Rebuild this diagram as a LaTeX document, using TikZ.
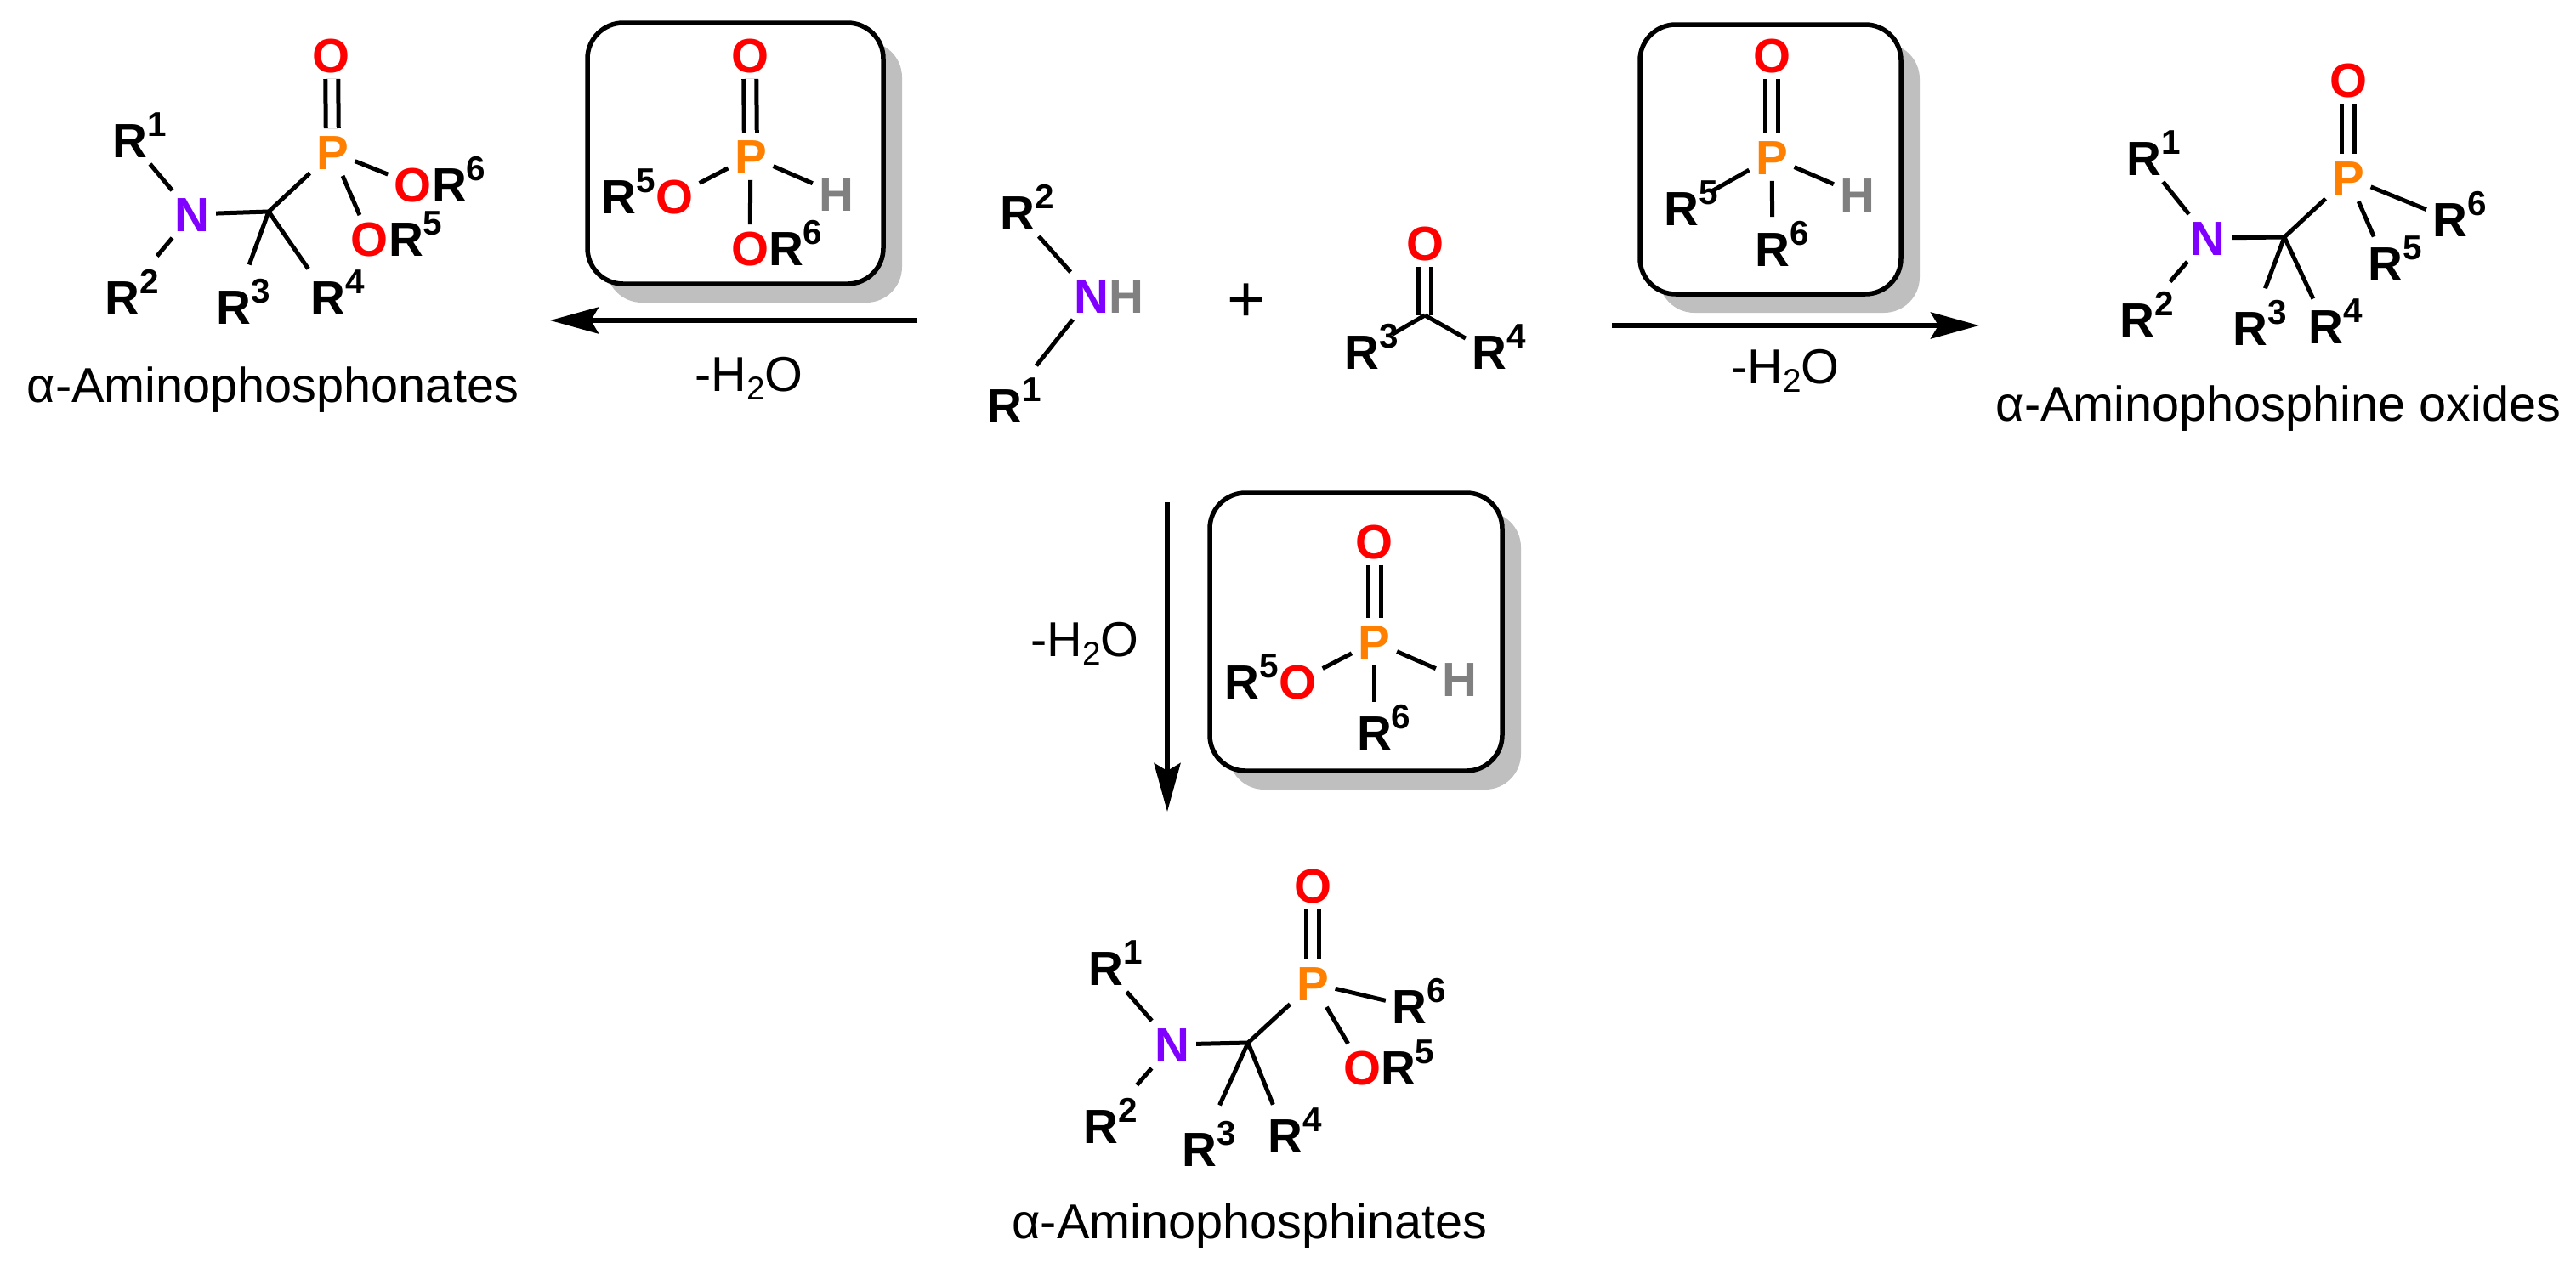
\documentclass[tikz,border=0pt]{standalone}
\usepackage{fontspec}
\usepackage{xcolor}
\setmainfont{Liberation Sans}
\usetikzlibrary{arrows.meta,shadows}

\definecolor{oxred}{HTML}{FF0000}
\definecolor{phorange}{HTML}{FF8000}
\definecolor{nipurple}{HTML}{7F00FF}
\definecolor{hygray}{HTML}{808080}

\newcommand{\upnum}[1]{\smash{\raisebox{7pt}{\fontsize{11.5}{11.5}\selectfont #1}}}
\newcommand{\rgrp}[1]{R\rlap{\upnum{#1}}}
\newcommand{\rright}[1]{O\rlap{\color{black}R\upnum{#1}}}
\newcommand{\rleft}[1]{\llap{\color{black}R\upnum{#1}}O}
\newcommand{\minuswater}{-H\raisebox{-3pt}{\fontsize{11}{11}\selectfont 2}O}

\tikzset{
  atom/.style={font=\fontsize{16.1}{18}\selectfont\bfseries,inner sep=2pt,text height=11.5pt,text depth=0pt},
  oatom/.style={atom,text=oxred},
  patom/.style={atom,text=phorange},
  natom/.style={atom,text=nipurple},
  hatom/.style={atom,text=hygray},
  caption/.style={font=\fontsize{16.4}{19}\selectfont,anchor=base,inner sep=0pt},
  bond/.style={line width=.05cm},
  dbond/.style={line width=.05cm,double,double distance=.10cm},
  rxnarrow/.style={line width=.055cm,-{Stealth[length=.57cm,width=.31cm,inset=.09cm]}},
  reagentbox/.style={draw,line width=.055cm,fill=white,rounded corners=.42cm,
    drop shadow={shadow xshift=.22cm,shadow yshift=-.22cm,fill=black!25,opacity=1}}
}

\begin{document}
\begin{tikzpicture}
\useasboundingbox (0,0) rectangle (30.30,-14.92);

% boxes with the reagents
\node (boxa) at (8.65,-1.805) [reagentbox,minimum width=3.48cm,minimum height=3.07cm] {};
\node (boxb) at (20.825,-1.875) [reagentbox,minimum width=3.07cm,minimum height=3.17cm] {};
\node (boxc) at (15.95,-7.435) [reagentbox,minimum width=3.44cm,minimum height=3.27cm] {};

% starting materials
\node (amr2) at (11.97,-2.50) [atom] {\rgrp{2}};
\node (amn) at (12.84,-3.48) [natom] {N\rlap{\color{hygray}H}};
\node (amr1) at (11.82,-4.77) [atom] {\rgrp{1}};
\node (plus) at (14.66,-3.56) [font=\fontsize{22}{24}\selectfont,inner sep=0pt] {+};
\node (keto) at (16.76,-2.86) [oatom] {O};
\coordinate (ketc) at (16.76,-3.71);
\node (ketr3) at (16.02,-4.14) [atom] {\rgrp{3}};
\node (ketr4) at (17.52,-4.14) [atom] {\rgrp{4}};
\draw [bond] (amr2) -- (amn);
\draw [bond,shorten >=.24cm] (amn) -- (amr1);
\draw [dbond] (keto) -- (ketc);
\draw [bond,shorten >=.08cm] (ketc) -- (ketr3);
\draw [bond] (ketc) -- (ketr4);

% reagent of the left route
\node (oxra) at (8.82,-0.65) [oatom] {O};
\node (phra) at (8.83,-1.84) [patom] {P};
\node (o5ra) at (7.93,-2.31) [oatom] {\rleft{5}};
\node (hyra) at (9.84,-2.28) [hatom] {H};
\node (o6ra) at (8.82,-2.92) [oatom] {\rright{6}};
\draw [dbond] (oxra) -- (phra);
\draw [bond] (phra) -- (o5ra);
\draw [bond] (phra) -- (hyra);
\draw [bond] (phra) -- (o6ra);

% reagent of the right route
\node (oxrb) at (20.84,-0.65) [oatom] {O};
\node (phrb) at (20.84,-1.85) [patom] {P};
\node (r5rb) at (19.78,-2.45) [atom] {\rgrp{5}};
\node (hyrb) at (21.85,-2.29) [hatom] {H};
\node (r6rb) at (20.85,-2.93) [atom] {\rgrp{6}};
\draw [dbond] (oxrb) -- (phrb);
\draw [bond,shorten >=.06cm] (phrb) -- (r5rb);
\draw [bond] (phrb) -- (hyrb);
\draw [bond,shorten >=.10cm] (phrb) -- (r6rb);

% reagent of the lower route
\node (oxrc) at (16.165,-6.37) [oatom] {O};
\node (phrc) at (16.165,-7.55) [patom] {P};
\node (o5rc) at (15.26,-8.02) [oatom] {\rleft{5}};
\node (hyrc) at (17.17,-7.99) [hatom] {H};
\node (r6rc) at (16.165,-8.62) [atom] {\rgrp{6}};
\draw [dbond] (oxrc) -- (phrc);
\draw [bond] (phrc) -- (o5rc);
\draw [bond] (phrc) -- (hyrc);
\draw [bond,shorten >=.08cm] (phrc) -- (r6rc);

% left product
\node (oxa) at (3.90,-0.65) [oatom] {O};
\node (pa) at (3.91,-1.79) [patom] {P};
\node (na) at (2.26,-2.52) [natom] {N};
\coordinate (cena) at (3.16,-2.49);
\node (r1a) at (1.53,-1.65) [atom] {\rgrp{1}};
\node (r2a) at (1.44,-3.50) [atom] {\rgrp{2}};
\node (r3a) at (2.75,-3.61) [atom] {\rgrp{3}};
\node (r4a) at (3.86,-3.50) [atom] {\rgrp{4}};
\node (o6a) at (4.86,-2.17) [oatom] {\rright{6}};
\node (o5a) at (4.35,-2.81) [oatom] {\rright{5}};
\node (capa) at (3.21,-4.73) [caption] {α-Aminophosphonates};
\draw [dbond] (oxa) -- (pa);
\draw [bond] (r1a) -- (na);
\draw [bond,shorten >=.27cm] (na) -- (r2a);
\draw [bond] (na) -- (cena);
\draw [bond] (cena) -- (pa);
\draw [bond,shorten >=.23cm] (cena) -- (r3a);
\draw [bond,shorten >=.07cm] (cena) -- (r4a);
\draw [bond] (pa) -- (o6a);
\draw [bond] (pa) -- (o5a);

% right product
\node (oxb) at (27.62,-0.94) [oatom] {O};
\node (pb) at (27.62,-2.09) [patom] {P};
\node (nb) at (25.97,-2.80) [natom] {N};
\coordinate (cenb) at (26.87,-2.79);
\node (r1b) at (25.22,-1.86) [atom] {\rgrp{1}};
\node (r2b) at (25.14,-3.76) [atom] {\rgrp{2}};
\node (r3b) at (26.47,-3.86) [atom] {\rgrp{3}};
\node (r4b) at (27.36,-3.84) [atom] {\rgrp{4}};
\node (r6b) at (28.82,-2.58) [atom] {\rgrp{6}};
\node (r5b) at (28.06,-3.10) [atom] {\rgrp{5}};
\node (capb) at (26.80,-4.95) [caption] {α-Aminophosphine oxides};
\draw [dbond] (oxb) -- (pb);
\draw [bond] (r1b) -- (nb);
\draw [bond,shorten >=.22cm] (nb) -- (r2b);
\draw [bond] (nb) -- (cenb);
\draw [bond] (cenb) -- (pb);
\draw [bond,shorten >=.2cm] (cenb) -- (r3b);
\draw [bond,shorten >=.05cm] (cenb) -- (r4b);
\draw [bond] (pb) -- (r6b);
\draw [bond,shorten >=.04cm] (pb) -- (r5b);

% lower product
\node (oxc) at (15.44,-10.42) [oatom] {O};
\node (pc) at (15.44,-11.57) [patom] {P};
\node (nc) at (13.79,-12.29) [natom] {N};
\coordinate (cenc) at (14.68,-12.27);
\node (r1c) at (13.01,-11.39) [atom] {\rgrp{1}};
\node (r2c) at (12.95,-13.25) [atom] {\rgrp{2}};
\node (r3c) at (14.11,-13.52) [atom] {\rgrp{3}};
\node (r4c) at (15.12,-13.36) [atom] {\rgrp{4}};
\node (r6c) at (16.58,-11.84) [atom] {\rgrp{6}};
\node (o5c) at (16.02,-12.56) [oatom] {\rright{5}};
\node (capc) at (14.70,-14.57) [caption] {α-Aminophosphinates};
\draw [dbond] (oxc) -- (pc);
\draw [bond] (r1c) -- (nc);
\draw [bond,shorten >=.27cm] (nc) -- (r2c);
\draw [bond] (nc) -- (cenc);
\draw [bond] (cenc) -- (pc);
\draw [bond,shorten >=.26cm] (cenc) -- (r3c);
\draw [bond,shorten >=.09cm] (cenc) -- (r4c);
\draw [bond] (pc) -- (r6c);
\draw [bond] (pc) -- (o5c);

% the three routes
\coordinate (sta) at (10.79,-3.77);
\coordinate (enda) at (6.47,-3.77);
\coordinate (stb) at (18.96,-3.83);
\coordinate (endb) at (23.28,-3.83);
\coordinate (stc) at (13.73,-5.91);
\coordinate (endc) at (13.73,-9.55);
\draw [rxnarrow] (sta) -- (enda);
\draw [rxnarrow] (stb) -- (endb);
\draw [rxnarrow] (stc) -- (endc);
\node (wata) at (8.81,-4.60) [caption] {\minuswater};
\node (watb) at (21.00,-4.51) [caption] {\minuswater};
\node (watc) at (12.76,-7.72) [caption] {\minuswater};
\end{tikzpicture}
\end{document}
